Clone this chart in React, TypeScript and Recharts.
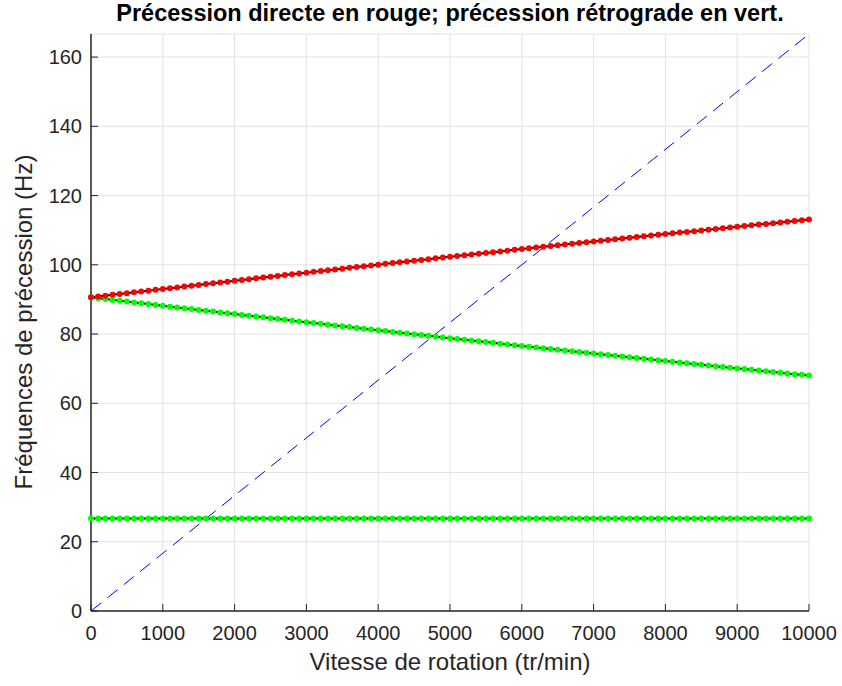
import { LineChart, Line, XAxis, YAxis, CartesianGrid } from 'recharts';

// Vitesse de rotation (tr/min)
const rpm = [
  0, 100, 200, 300, 400, 500, 600, 700, 800, 900,
  1000, 1100, 1200, 1300, 1400, 1500, 1600, 1700, 1800, 1900,
  2000, 2100, 2200, 2300, 2400, 2500, 2600, 2700, 2800, 2900,
  3000, 3100, 3200, 3300, 3400, 3500, 3600, 3700, 3800, 3900,
  4000, 4100, 4200, 4300, 4400, 4500, 4600, 4700, 4800, 4900,
  5000, 5100, 5200, 5300, 5400, 5500, 5600, 5700, 5800, 5900,
  6000, 6100, 6200, 6300, 6400, 6500, 6600, 6700, 6800, 6900,
  7000, 7100, 7200, 7300, 7400, 7500, 7600, 7700, 7800, 7900,
  8000, 8100, 8200, 8300, 8400, 8500, 8600, 8700, 8800, 8900,
  9000, 9100, 9200, 9300, 9400, 9500, 9600, 9700, 9800, 9900,
  10000,
];

// précession directe (Hz)
const directe = [
  90.60, 90.84, 91.08, 91.32, 91.56, 91.80, 92.04, 92.28, 92.52, 92.76,
  93.00, 93.24, 93.48, 93.71, 93.95, 94.19, 94.43, 94.67, 94.90, 95.14,
  95.38, 95.62, 95.85, 96.09, 96.32, 96.56, 96.79, 97.03, 97.26, 97.50,
  97.73, 97.96, 98.19, 98.42, 98.65, 98.89, 99.12, 99.35, 99.58, 99.81,
  100.04, 100.27, 100.49, 100.72, 100.95, 101.18, 101.40, 101.63, 101.86, 102.08,
  102.31, 102.53, 102.76, 102.98, 103.20, 103.43, 103.65, 103.87, 104.09, 104.32,
  104.54, 104.76, 104.98, 105.20, 105.42, 105.64, 105.85, 106.07, 106.29, 106.51,
  106.73, 106.95, 107.16, 107.38, 107.59, 107.81, 108.02, 108.24, 108.45, 108.67,
  108.88, 109.09, 109.30, 109.51, 109.72, 109.94, 110.15, 110.36, 110.57, 110.78,
  110.99, 111.20, 111.40, 111.61, 111.82, 112.02, 112.23, 112.44, 112.64, 112.85,
  113.06,
];

// précession rétrograde, premier mode (Hz)
const retrograde = [
  90.60, 90.36, 90.11, 89.87, 89.62, 89.38, 89.14, 88.89, 88.65, 88.40,
  88.16, 87.92, 87.68, 87.44, 87.20, 86.96, 86.72, 86.48, 86.24, 86.00,
  85.76, 85.52, 85.29, 85.05, 84.82, 84.58, 84.34, 84.11, 83.87, 83.64,
  83.40, 83.17, 82.94, 82.70, 82.47, 82.24, 82.01, 81.78, 81.54, 81.31,
  81.08, 80.85, 80.62, 80.40, 80.17, 79.94, 79.71, 79.48, 79.26, 79.03,
  78.80, 78.58, 78.35, 78.13, 77.90, 77.68, 77.46, 77.23, 77.01, 76.78,
  76.56, 76.34, 76.12, 75.90, 75.68, 75.46, 75.24, 75.02, 74.80, 74.58,
  74.36, 74.14, 73.93, 73.71, 73.50, 73.28, 73.06, 72.85, 72.63, 72.42,
  72.20, 71.99, 71.78, 71.56, 71.35, 71.14, 70.93, 70.72, 70.50, 70.29,
  70.08, 69.87, 69.66, 69.46, 69.25, 69.04, 68.83, 68.62, 68.42, 68.21,
  68.00,
];

// mode rétrograde constant (Hz)
const retrogradeBas = [
  26.7, 26.7, 26.7, 26.7, 26.7, 26.7, 26.7, 26.7, 26.7, 26.7,
  26.7, 26.7, 26.7, 26.7, 26.7, 26.7, 26.7, 26.7, 26.7, 26.7,
  26.7, 26.7, 26.7, 26.7, 26.7, 26.7, 26.7, 26.7, 26.7, 26.7,
  26.7, 26.7, 26.7, 26.7, 26.7, 26.7, 26.7, 26.7, 26.7, 26.7,
  26.7, 26.7, 26.7, 26.7, 26.7, 26.7, 26.7, 26.7, 26.7, 26.7,
  26.7, 26.7, 26.7, 26.7, 26.7, 26.7, 26.7, 26.7, 26.7, 26.7,
  26.7, 26.7, 26.7, 26.7, 26.7, 26.7, 26.7, 26.7, 26.7, 26.7,
  26.7, 26.7, 26.7, 26.7, 26.7, 26.7, 26.7, 26.7, 26.7, 26.7,
  26.7, 26.7, 26.7, 26.7, 26.7, 26.7, 26.7, 26.7, 26.7, 26.7,
  26.7, 26.7, 26.7, 26.7, 26.7, 26.7, 26.7, 26.7, 26.7, 26.7,
  26.7,
];

// droite 1x : fréquence de rotation = tr/min / 60
const synchroRpm = [0, 10000];
const synchroHz = [0, 166.67];

const xTicks = [0, 1000, 2000, 3000, 4000, 5000, 6000, 7000, 8000, 9000, 10000];
const yTicks = [0, 20, 40, 60, 80, 100, 120, 140, 160];

const rows = rpm.map((r, i) => ({
  rpm: r,
  directe: directe[i],
  retrograde: retrograde[i],
  retrogradeBas: retrogradeBas[i],
}));
const synchro = synchroRpm.map((r, i) => ({ rpm: r, hz: synchroHz[i] }));

const FONT = '"Liberation Sans", Arial, Helvetica, sans-serif';
const AXIS = '#262626';
const TICK_LEN = 7;

// ticks pointing into the plot box, MATLAB style
const BottomTick = ({ x, y, payload }: any) => (
  <g>
    <line x1={x} y1={y} x2={x} y2={y - TICK_LEN} stroke={AXIS} strokeWidth={1} />
    <text x={x} y={y + 29} textAnchor="middle" fontSize={20} fontFamily={FONT} fill={AXIS}>
      {payload.value}
    </text>
  </g>
);

const LeftTick = ({ x, y, payload }: any) => (
  <g>
    <line x1={x} y1={y} x2={x + TICK_LEN} y2={y} stroke={AXIS} strokeWidth={1} />
    <text x={x - 9} y={y + 7} textAnchor="end" fontSize={20} fontFamily={FONT} fill={AXIS}>
      {payload.value}
    </text>
  </g>
);

const TopTick = ({ x, y }: any) => (
  <line x1={x} y1={y} x2={x} y2={y + TICK_LEN} stroke={AXIS} strokeWidth={1} />
);

const RightTick = ({ x, y }: any) => (
  <line x1={x} y1={y} x2={x - TICK_LEN} y2={y} stroke={AXIS} strokeWidth={1} />
);

const dotRed = { r: 3, fill: '#ff0000', stroke: 'none' };
const dotGreen = { r: 3, fill: '#00ff00', stroke: 'none' };

export default function App() {
  return (
    <div style={{ position: 'fixed', left: 0, top: 0, width: 842, height: 686, background: '#fff', fontFamily: FONT }}>
      <div
        style={{
          position: 'absolute', left: 91, top: 0, width: 718, textAlign: 'center',
          fontSize: 23.5, fontWeight: 'bold', color: '#000', lineHeight: '26px', zIndex: 1,
          whiteSpace: 'nowrap',
        }}
      >
        Précession directe en rouge; précession rétrograde en vert.
      </div>
      <div
        style={{
          position: 'absolute', left: 91, top: 648, width: 718, textAlign: 'center',
          fontSize: 24, color: AXIS, lineHeight: '28px', zIndex: 1,
        }}
      >
        Vitesse de rotation (tr/min)
      </div>
      <div
        style={{
          position: 'absolute', left: 24, top: 322, width: 0, height: 0, zIndex: 1,
        }}
      >
        <div
          style={{
            position: 'absolute', left: -250, top: -14, width: 500, textAlign: 'center',
            fontSize: 24, color: AXIS, lineHeight: '28px', whiteSpace: 'nowrap',
            transform: 'rotate(-90deg)',
          }}
        >
          Fréquences de précession (Hz)
        </div>
      </div>

      <LineChart width={842} height={686} data={rows} margin={{ top: 34, right: 33, bottom: 0, left: 0 }}>
        <CartesianGrid stroke="#e3e3e3" strokeWidth={1} />
        <XAxis
          dataKey="rpm" type="number" domain={[0, 10000]} ticks={xTicks}
          height={75} tickSize={0} tickMargin={0} tick={<BottomTick />}
          axisLine={{ stroke: AXIS, strokeWidth: 1.5 }} interval={0}
        />
        <XAxis
          xAxisId="top" orientation="top" dataKey="rpm" type="number" domain={[0, 10000]} ticks={xTicks}
          height={0} tickSize={0} tickMargin={0} tick={<TopTick />}
          axisLine={{ stroke: AXIS, strokeWidth: 1.5 }} interval={0}
        />
        <YAxis
          type="number" domain={[0, 166.67]} ticks={yTicks} allowDataOverflow
          width={91} tickSize={0} tickMargin={0} tick={<LeftTick />}
          axisLine={{ stroke: AXIS, strokeWidth: 1.5 }} interval={0}
        />
        <YAxis
          yAxisId="right" orientation="right" type="number" domain={[0, 166.67]} ticks={yTicks} allowDataOverflow
          width={0} tickSize={0} tickMargin={0} tick={<RightTick />}
          axisLine={{ stroke: AXIS, strokeWidth: 1.5 }} interval={0}
        />
        <Line
          dataKey="retrogradeBas" type="linear" stroke="#000" strokeWidth={2}
          dot={dotGreen} activeDot={false} isAnimationActive={false}
        />
        <Line
          dataKey="retrograde" type="linear" stroke="#000" strokeWidth={2}
          dot={dotGreen} activeDot={false} isAnimationActive={false}
        />
        <Line
          dataKey="directe" type="linear" stroke="#000" strokeWidth={2}
          dot={dotRed} activeDot={false} isAnimationActive={false}
        />
        <Line
          data={synchro} dataKey="hz" type="linear" stroke="#0000ff" strokeWidth={1}
          strokeDasharray="13 8" dot={false} activeDot={false} isAnimationActive={false}
        />
      </LineChart>
    </div>
  );
}
